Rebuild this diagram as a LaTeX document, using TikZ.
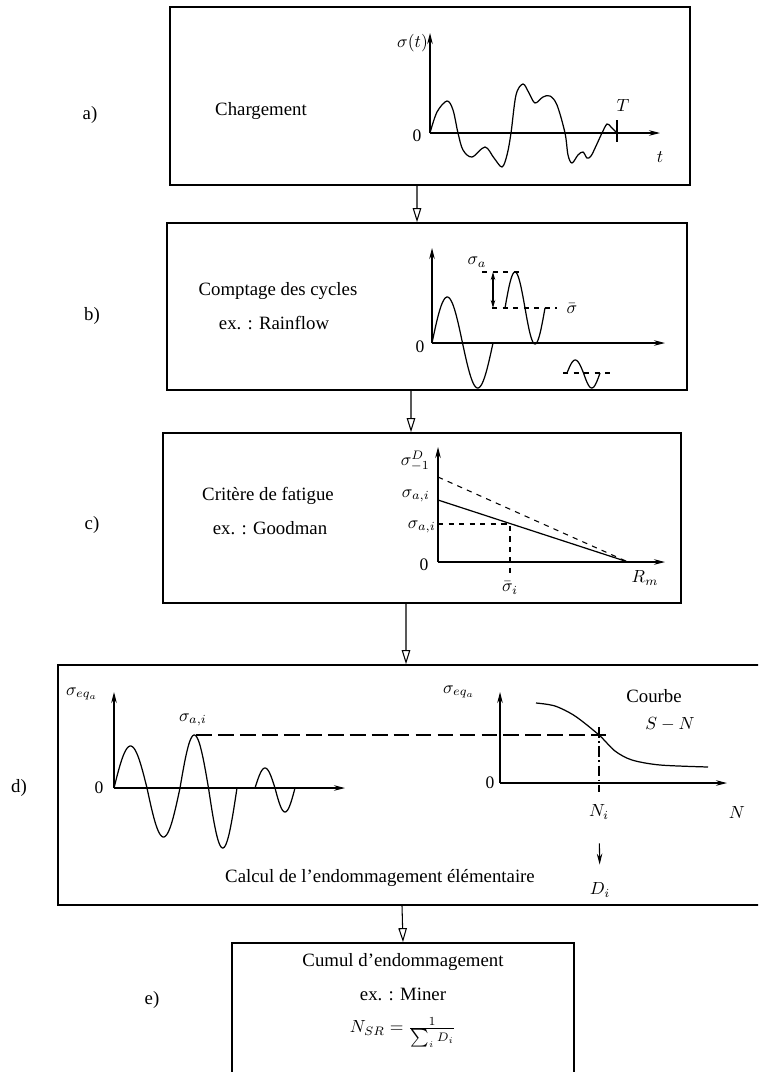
\documentclass[tikz,border=0pt]{standalone}
\usepackage{fontspec}
\setmainfont{Liberation Serif}
\usetikzlibrary{arrows.meta}

\begin{document}
\begin{tikzpicture}[
  x=0.02cm, y=-0.02cm,
  etape/.style={rectangle, draw, line width=1pt, inner sep=0pt},
  texte/.style={font=\fontsize{10.7}{13}\selectfont, inner sep=1pt},
  lbl/.style={font=\fontsize{10}{12}\selectfont, inner sep=1pt},
  axe/.style={-{Stealth[length=0.22cm, width=0.11cm]}, line width=0.6pt},
  courbe/.style={line width=0.7pt},
  tiret/.style={dashed, line width=0.6pt},
  fleche/.style={-{Triangle[open, length=0.28cm, width=0.17cm]}, line width=0.6pt},
  >=Stealth
]
  \useasboundingbox (0,0) rectangle (758,1072);
  \clip (0,0) rectangle (758,1072);

  \node[etape, minimum width=10.4cm, minimum height=3.56cm] (chargement) at (430,96) {};
  \node[etape, minimum width=10.4cm, minimum height=3.34cm] (comptage) at (427,306.5) {};
  \node[etape, minimum width=10.36cm, minimum height=3.4cm] (critere) at (422,518) {};
  \node[etape, minimum width=14.24cm, minimum height=4.8cm] (calcul) at (414,785) {};
  \node[etape, minimum width=6.84cm, minimum height=2.94cm] (cumul) at (403,1016.5) {};

  \draw[fleche] ([xshift=-0.26cm]chargement.south) -- ([xshift=-0.2cm]comptage.north);
  \draw[fleche] ([xshift=-0.32cm]comptage.south) -- ([xshift=-0.22cm]critere.north);
  \draw[fleche] ([xshift=-0.32cm]critere.south) -- ([xshift=-0.16cm]calcul.north);
  \draw[fleche] ([xshift=-0.24cm]calcul.south) -- (cumul.north);

  \node[texte] (repA) at (90,115) {a)};
  \node[texte] (repB) at (92,316) {b)};
  \node[texte] (repC) at (92,525) {c)};
  \node[texte] (repD) at (19,788) {d)};
  \node[texte] (repE) at (152,1000) {e)};

  % a) chargement
  \node[texte] (txtA) at (261,111) {Chargement};
  \draw[axe] (430,133) -- (430,33);
  \draw[axe] (430,133) -- (660,133);
  \node[lbl, anchor=east] (sigA) at (430,43) {$\sigma(t)$};
  \node[lbl] (zeroA) at (417,136) {0};
  \node[lbl] (tA) at (660,157) {$t$};
  \node[lbl] (periodeA) at (623,105) {$T$};
  \draw[line width=0.6pt] (617,120) -- (617,142);
  \draw[courbe] plot[smooth, tension=0.55] coordinates {(430,133) (437,112) (447,101) (453,110)
    (458,133) (463,150) (472,157) (485,147) (494,158) (502,167) (507,155) (511,133) (516,95)
    (523,84) (529,93) (535,103) (543,97) (550,96) (557,105) (565,133) (568,155) (572,163)
    (578,155) (583,152) (587,158) (591,156) (596,146) (602,133) (607,124) (611,127) (617,133)};

  % b) comptage
  \node[texte] (txtB1) at (278,291) {Comptage des cycles};
  \node[texte] (txtB2) at (274,323) {ex. : Rainflow};
  \draw[axe] (432,343) -- (432,248);
  \draw[axe] (432,343) -- (665,343);
  \node[lbl] (zeroB) at (420,347) {0};
  \draw[courbe] plot[domain=0:180, samples=30] ({432+\x/360*61},{343-46*sin(\x)})
    -- plot[domain=180:360, samples=30] ({432+\x/360*61},{343-45*sin(\x)});
  \draw[courbe] plot[domain=0:360, samples=50] ({505+\x/360*40},{308-36*sin(\x)});
  \draw[tiret] (482,272) -- (523,272);
  \draw[tiret] (492,308) -- (557,308);
  \draw[{Stealth[length=0.16cm, width=0.09cm]}-{Stealth[length=0.16cm, width=0.09cm]}, line width=0.6pt] (493,272) -- (493,308);
  \node[lbl] (sigAB) at (477,262) {$\sigma_a$};
  \node[lbl] (moyB) at (572,309) {$\bar{\sigma}$};
  \draw[tiret] (563,373) -- (612,373);
  \draw[courbe] plot[domain=0:180, samples=20] ({567+\x/360*33},{373-13*sin(\x)})
    -- plot[domain=180:360, samples=20] ({567+\x/360*33},{373-15*sin(\x)});

  % c) critere
  \node[texte] (txtC1) at (268,496) {Critère de fatigue};
  \node[texte] (txtC2) at (270,528) {ex. : Goodman};
  \draw[axe] (438,562) -- (438,447);
  \draw[axe] (438,562) -- (665,562);
  \draw[tiret] (438,477) -- (628,562);
  \draw[courbe] (438,500) -- (628,562);
  \draw[tiret] (438,524) -- (510,524) -- (510,573);
  \node[lbl, anchor=east, inner sep=0pt] (sigD) at (430,461) {$\sigma^D_{-1}$};
  \node[lbl, anchor=east, inner sep=0pt] (sigC1) at (430,496) {$\sigma_{a,i}$};
  \node[lbl, anchor=east, inner sep=0pt] (sigC2) at (436,527) {$\sigma_{a,i}$};
  \node[lbl] (zeroC) at (424,565) {0};
  \node[lbl] (moyC) at (510,588) {$\bar{\sigma}_i$};
  \node[lbl] (rm) at (645,578) {$R_m$};

  % d) calcul
  \node[lbl] (sigEqG) at (82,694) {$\sigma_{eq_a}$};
  \draw[axe] (114,788) -- (114,692);
  \draw[axe] (114,788) -- (345,788);
  \node[lbl] (zeroDG) at (99,788) {0};
  \foreach \xa/\xb/\up/\dn in {114/180/42/49, 180/237/53/60, 255/295/20/24}
    \draw[courbe] plot[domain=0:180, samples=30] ({\xa+\x/360*(\xb-\xa)},{788-\up*sin(\x)})
      -- plot[domain=180:360, samples=30] ({\xa+\x/360*(\xb-\xa)},{788-\dn*sin(\x)});
  \node[lbl] (sigAI) at (193,720) {$\sigma_{a,i}$};
  \draw[dash pattern=on 9pt off 3.5pt, line width=0.8pt] (196,735) -- (606,735);

  \node[lbl] (sigEqD) at (459,692) {$\sigma_{eq_a}$};
  \draw[axe] (500,783) -- (500,692);
  \draw[axe] (500,783) -- (727,783);
  \node[lbl] (zeroDD) at (490,783) {0};
  \draw[courbe] plot[smooth] coordinates {(536,703) (555,706) (575,716) (599,735) (615,751)
    (632,760) (660,765) (708,767)};
  \draw[dash pattern=on 6pt off 2pt on 1pt off 2pt, line width=0.6pt] (599,727) -- (599,792);
  \node[texte] (courbeSN) at (654,696) {Courbe};
  \node[lbl] (sn) at (670,724) {$S-N$};
  \node[lbl] (ni) at (599,812) {$N_i$};
  \node[lbl] (nn) at (737,812) {$N$};
  \node[lbl] (di) at (600,890) {$D_i$};
  \draw[axe, shorten <=0.44cm, shorten >=0.32cm] (ni) -- (di);
  \node[texte] (txtD) at (380,878) {Calcul de l'endommagement élémentaire};

  % e) cumul
  \node[texte] (txtE1) at (403,962) {Cumul d'endommagement};
  \node[texte] (txtE2) at (403,994) {ex. : Miner};
  \node[lbl] (miner) at (403,1033) {$N_{SR}=\frac{1}{\sum_i D_i}$};
\end{tikzpicture}
\end{document}
